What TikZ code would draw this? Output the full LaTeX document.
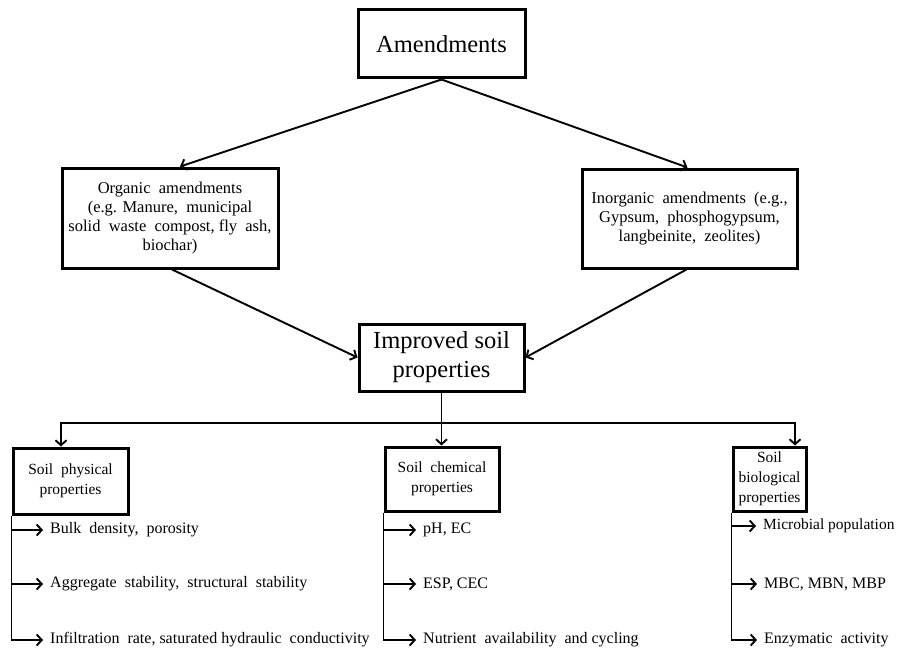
\documentclass[tikz,border=0pt]{standalone}
\usepackage{fontspec}
\setmainfont{Liberation Serif}
\usetikzlibrary{arrows.meta,calc}
\begin{document}
\begin{tikzpicture}[x=1pt,y=-1pt,
  box/.style={draw,line width=3pt,inner sep=0pt,align=center,fill=white},
  arr/.style={line width=1.9pt,-{Straight Barb[length=5pt,width=11pt,line width=1.9pt]}},
  big/.style={font=\fontsize{24.5}{29}\selectfont},
  mid/.style={font=\fontsize{16.5}{19}\selectfont},
  small/.style={font=\fontsize{15.5}{20}\selectfont},
  item/.style={anchor=west,inner ysep=0pt,inner xsep=7pt,font=\fontsize{16}{18}\selectfont}
]
\useasboundingbox[fill=white] (0,0) rectangle (902,650);

% main boxes
\node[box,big,minimum width=167pt,minimum height=68pt] (am) at (441.5,44) {Amendments};
\node[box,mid,minimum width=216pt,minimum height=100pt] (org) at (170,218)
  {Organic\ \ amendments\\(e.g. Manure,\ \ municipal\\solid\ \ waste\ \ compost, fly\ \ ash,\\biochar)};
\node[box,mid,minimum width=215pt,minimum height=99pt] (inorg) at (689.5,218.5)
  {Inorganic\ \ amendments\ \ (e.g.,\\Gypsum,\ \ phosphogypsum,\\langbeinite,\ \ zeolites)};
\node[box,big,minimum width=165pt,minimum height=67pt] (imp) at (441.5,357.5) {Improved soil\\properties};

% property boxes
\node[box,small,minimum width=115pt,minimum height=66pt] (phys) at (70.5,481) {Soil\ \ physical\\properties};
\node[box,small,minimum width=114pt,minimum height=64pt] (chem) at (442,479) {Soil\ \ chemical\\properties};
\node[box,small,minimum width=73pt,minimum height=64pt] (bio) at (769.5,479) {Soil\\biological\\properties};

% items
\node[item] (p1) at (43,530) {Bulk\ \ density,\ \ porosity};
\node[item] (p2) at (43,584) {Aggregate\ \ stability,\ \ structural\ \ stability};
\node[item] (p3) at (43,640) {Infiltration\ \ rate,\ saturated\ hydraulic\ \ conductivity};
\node[item] (c1) at (416,530) {pH, EC};
\node[item] (c2) at (416,584) {ESP, CEC};
\node[item] (c3) at (416,640) {Nutrient\ \ availability\ \ and cycling};
\node[item,font=\fontsize{15.5}{18}\selectfont] (b1) at (756,526) {Microbial population};
\node[item] (b2) at (757,584) {MBC, MBN, MBP};
\node[item] (b3) at (757,640) {Enzymatic\ \ activity};

% top connectors
\draw[arr] (am.south) -- ($(org.north)+(10,0)$);
\draw[arr] (am.south) -- ($(inorg.north)+(-2,0)$);
\draw[arr] ($(org.south)+(2,0)$) -- (imp.west);
\draw[arr] ($(inorg.south)+(-3,0)$) -- (imp.east);

% bus
\coordinate (bus) at (441.5,423);
\coordinate (pa) at ($(phys.north)+(-9.5,0)$);
\coordinate (ba) at ($(bio.north)+(25.5,0)$);
\draw[arr] (imp.south) -- (imp.south |- chem.north);
\draw[arr] (bus) -| (pa);
\draw[arr] (bus) -| (ba);

% branches
\draw[arr] (phys.south west) |- (p3.west);
\draw[arr] (phys.south west |- p1.west) -- (p1.west);
\draw[arr] (phys.south west |- p2.west) -- (p2.west);
\draw[arr] (chem.south west) |- (c3.west);
\draw[arr] (chem.south west |- c1.west) -- (c1.west);
\draw[arr] (chem.south west |- c2.west) -- (c2.west);
\draw[arr] (bio.south west) |- (b3.west);
\draw[arr] (bio.south west |- b1.west) -- (b1.west);
\draw[arr] (bio.south west |- b2.west) -- (b2.west);
\end{tikzpicture}
\end{document}
